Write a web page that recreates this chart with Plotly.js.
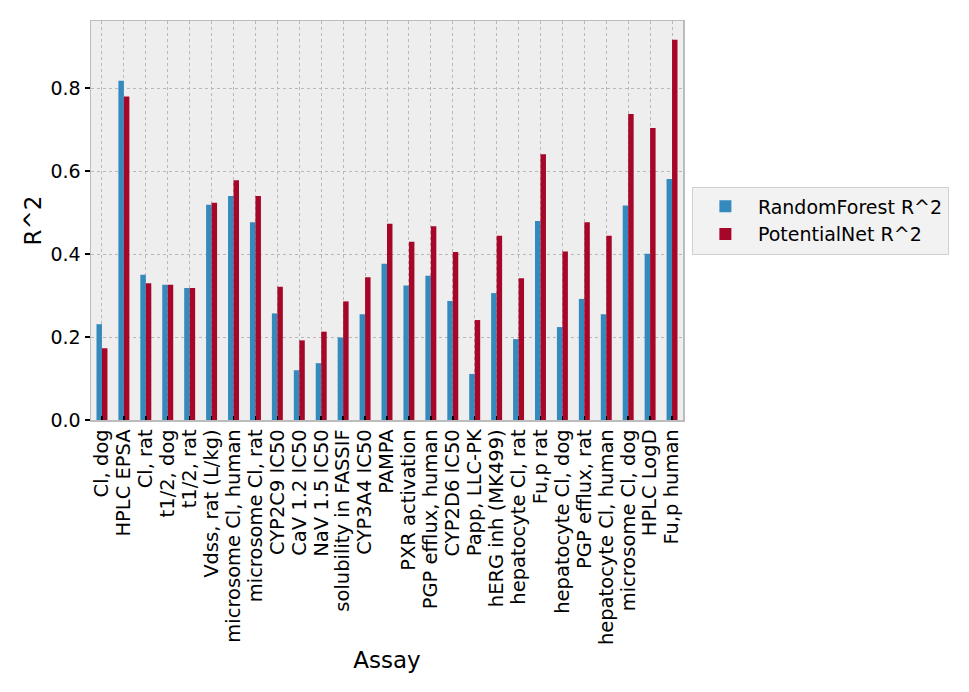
<!DOCTYPE html>
<html>
<head>
<meta charset="utf-8">
<script src="https://cdn.plot.ly/plotly-3.0.1.min.js"></script>
<style>
  html, body { margin: 0; padding: 0; background: #fff; }
  #plot { width: 969px; height: 692px; }
</style>
</head>
<body>
<div id="plot"></div>
<script>
var assays = ["Cl, dog", "HPLC EPSA", "Cl, rat", "t1/2, dog", "t1/2, rat",
  "Vdss, rat (L/kg)", "microsome Cl, human", "microsome Cl, rat", "CYP2C9 IC50",
  "CaV 1.2 IC50", "NaV 1.5 IC50", "solubility in FASSIF", "CYP3A4 IC50", "PAMPA",
  "PXR activation", "PGP efflux, human", "CYP2D6 IC50", "Papp, LLC-PK",
  "hERG inh (MK499)", "hepatocyte Cl, rat", "Fu,p rat", "hepatocyte Cl, dog",
  "PGP efflux, rat", "hepatocyte Cl, human", "microsome Cl, dog", "HPLC LogD",
  "Fu,p human"];
var rfR2 = [0.231, 0.818, 0.350, 0.326, 0.318, 0.519, 0.540, 0.477, 0.257,
  0.120, 0.137, 0.199, 0.255, 0.377, 0.324, 0.348, 0.287, 0.111, 0.306, 0.195,
  0.480, 0.224, 0.292, 0.255, 0.517, 0.401, 0.581];
var pnR2 = [0.173, 0.780, 0.330, 0.326, 0.318, 0.524, 0.578, 0.540, 0.321,
  0.192, 0.213, 0.286, 0.344, 0.473, 0.430, 0.467, 0.405, 0.241, 0.444, 0.342,
  0.641, 0.406, 0.477, 0.444, 0.738, 0.704, 0.917];
var seriesNames = ["RandomForest R^2", "PotentialNet R^2"];

var font = "DejaVu Sans, sans-serif";

var data = [
  {x: assays, y: rfR2, name: seriesNames[0], type: "bar",
   marker: {color: "#348ABD", line: {width: 0}}},
  {x: assays, y: pnR2, name: seriesNames[1], type: "bar",
   marker: {color: "#A60628", line: {width: 0}}}
];

var layout = {
  width: 969, height: 692,
  margin: {l: 91, r: 286, t: 21, b: 272},
  paper_bgcolor: "#ffffff",
  plot_bgcolor: "#eeeeee",
  font: {family: font, size: 18, color: "#000"},
  barmode: "group",
  bargap: 0.5,
  bargroupgap: 0,
  showlegend: true,
  legend: {
    x: 1.015, y: 0.5, xanchor: "left", yanchor: "middle",
    bgcolor: "#f2f2f2", bordercolor: "#d0d0d0", borderwidth: 1,
    itemwidth: 55, tracegroupgap: 0,
    font: {family: font, size: 19, color: "#000"}
  },
  xaxis: {
    type: "category",
    tickmode: "array", tickvals: assays, ticktext: assays,
    tickangle: -90,
    ticks: "inside", ticklen: 4, tickwidth: 1.5, tickcolor: "#000",
    showgrid: true, gridcolor: "#b8b8b8", griddash: "3px,3px", gridwidth: 1,
    showline: true, linecolor: "#bcbcbc", linewidth: 1.5, mirror: true,
    zeroline: false,
    tickfont: {family: font, size: 19.5},
    title: {text: "Assay", font: {family: font, size: 23}, standoff: 8}
  },
  yaxis: {
    range: [0, 0.962],
    tickvals: [0, 0.2, 0.4, 0.6, 0.8],
    tickformat: ".1f",
    ticks: "outside", ticklen: 5, tickwidth: 1.5, tickcolor: "#000",
    showgrid: true, gridcolor: "#b8b8b8", griddash: "3px,3px", gridwidth: 1,
    showline: true, linecolor: "#bcbcbc", linewidth: 1.5, mirror: true,
    zeroline: false,
    tickfont: {family: font, size: 19},
    title: {text: "R^2", font: {family: font, size: 23}, standoff: 2}
  }
};

Plotly.newPlot("plot", data, layout, {displayModeBar: false, staticPlot: true});
</script>
</body>
</html>
